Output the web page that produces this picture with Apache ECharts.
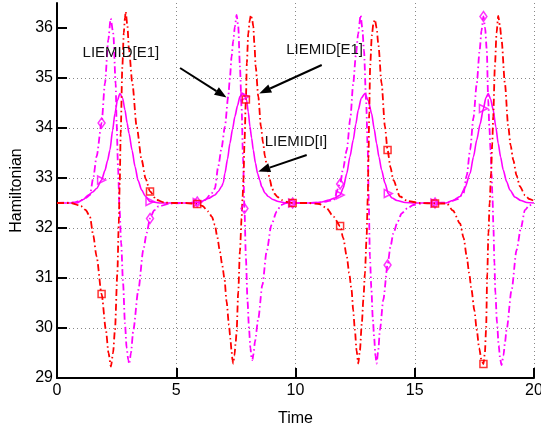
<!DOCTYPE html>
<html><head><meta charset="utf-8">
<script src="https://cdn.jsdelivr.net/npm/echarts@6/dist/echarts.min.js"></script>
<style>html,body{margin:0;padding:0;background:#fff}#c{width:541px;height:430px}</style>
</head><body><div id="c"></div>
<script>
const xTicks = [0, 5, 10, 15, 20];
const yTicks = [29, 30, 31, 32, 33, 34, 35, 36];

const redDashDot = [
[0.00,32.50],[0.60,32.50],[1.00,32.44],[1.20,32.36],[1.38,32.23],[1.52,31.85],[1.66,31.43],[1.87,30.68],[2.05,29.96],[2.16,29.50],[2.26,29.23],[2.35,29.50],[2.43,29.96],[2.53,31.09],[2.59,32.09],[2.63,32.90],[2.67,33.89],[2.74,35.23],[2.80,35.90],[2.85,36.20],[2.88,36.33],[2.95,36.05],[3.02,35.56],[3.16,34.89],[3.34,34.03],[3.55,33.36],[3.72,32.98],[3.90,32.73],[4.18,32.56],[4.50,32.51],[5.00,32.50],
[5.40,32.50],[5.88,32.48],[6.10,32.44],[6.34,32.33],[6.50,32.22],[6.62,32.06],[6.72,31.82],[6.83,31.53],[6.93,31.25],[7.02,30.99],[7.11,30.53],[7.21,30.06],[7.27,29.78],[7.32,29.53],[7.36,29.35],[7.39,29.29],[7.44,29.45],[7.49,29.70],[7.53,29.93],[7.60,30.73],[7.67,31.53],[7.74,32.19],[7.78,32.60],[7.82,33.00],[7.86,33.70],[7.92,34.57],[7.96,35.30],[8.02,35.89],[8.08,36.15],[8.13,36.26],[8.18,36.18],[8.23,36.03],[8.28,35.65],[8.33,35.23],[8.44,34.63],[8.55,34.03],[8.64,33.70],[8.72,33.43],[8.82,33.18],[8.93,32.96],[9.00,32.82],[9.11,32.69],[9.25,32.62],[9.42,32.56],[9.65,32.52],[9.88,32.50],
[10.50,32.50],[11.00,32.48],[11.30,32.40],[11.59,32.23],[11.87,32.04],[12.00,31.80],[12.15,31.43],[12.25,31.10],[12.35,30.76],[12.42,30.35],[12.49,29.96],[12.56,29.55],[12.63,29.29],[12.70,29.55],[12.78,30.09],[12.85,30.60],[12.91,31.09],[12.98,31.80],[13.03,32.60],[13.06,33.40],[13.09,34.30],[13.13,35.23],[13.20,35.85],[13.27,36.10],[13.33,36.17],[13.40,36.00],[13.47,35.69],[13.61,34.89],[13.75,34.03],[13.86,33.56],[13.98,33.22],[14.10,32.96],[14.38,32.63],[14.70,32.54],[15.20,32.50],[15.85,32.49],
[16.34,32.49],[16.60,32.35],[16.90,32.09],[17.05,31.80],[17.18,31.43],[17.28,31.10],[17.38,30.76],[17.50,30.35],[17.60,29.96],[17.70,29.60],[17.80,29.35],[17.88,29.28],[17.94,29.50],[17.99,29.96],[18.04,31.09],[18.09,31.90],[18.14,32.50],[18.20,33.10],[18.25,33.70],[18.29,34.23],[18.36,35.23],[18.43,35.90],[18.50,36.24],[18.57,36.05],[18.64,35.76],[18.78,34.89],[18.92,34.03],[19.02,33.65],[19.13,33.36],[19.27,33.05],[19.41,32.83],[19.62,32.66],[19.80,32.58],[20.00,32.54]
];

const magentaDashDot = [
[0.00,32.50],[0.70,32.51],[1.00,32.55],[1.20,32.60],[1.38,32.66],[1.52,33.00],[1.66,33.43],[1.87,34.10],[2.01,34.89],[2.15,35.76],[2.25,36.19],[2.36,35.89],[2.46,34.89],[2.50,34.09],[2.56,33.20],[2.62,32.40],[2.69,31.70],[2.77,30.90],[2.85,30.09],[2.92,29.60],[2.99,29.36],[3.03,29.28],[3.10,29.50],[3.20,29.96],[3.41,30.76],[3.62,31.56],[3.76,31.90],[3.90,32.19],[4.07,32.35],[4.25,32.43],[4.74,32.49],[5.20,32.50],
[5.60,32.50],[5.88,32.52],[6.20,32.56],[6.48,32.69],[6.62,32.79],[6.76,33.23],[6.90,33.60],[7.04,34.03],[7.18,34.63],[7.25,35.00],[7.32,35.43],[7.39,35.75],[7.46,36.03],[7.53,36.26],[7.60,36.03],[7.67,35.23],[7.74,34.40],[7.80,33.40],[7.86,32.39],[7.92,31.40],[7.99,30.53],[8.05,29.99],[8.11,29.60],[8.16,29.39],[8.19,29.36],[8.24,29.48],[8.30,29.73],[8.44,30.19],[8.61,30.86],[8.79,31.53],[8.99,32.06],[9.21,32.33],[9.40,32.46],[9.60,32.50],[9.88,32.50],
[10.50,32.50],[11.00,32.51],[11.30,32.53],[11.59,32.56],[11.87,32.88],[12.00,33.20],[12.15,33.56],[12.30,34.20],[12.42,34.89],[12.53,35.45],[12.63,35.89],[12.73,36.26],[12.80,36.00],[12.87,35.56],[12.96,34.56],[13.03,33.56],[13.07,32.56],[13.12,31.43],[13.18,30.80],[13.24,30.20],[13.30,29.80],[13.35,29.45],[13.40,29.29],[13.47,29.55],[13.54,29.96],[13.68,30.56],[13.86,31.26],[13.98,31.62],[14.10,31.89],[14.28,32.12],[14.45,32.29],[14.70,32.40],[14.94,32.46],[15.40,32.50],[15.85,32.50],
[16.40,32.51],[16.80,32.58],[17.04,32.69],[17.18,33.05],[17.32,33.56],[17.46,34.20],[17.60,34.89],[17.72,35.55],[17.80,35.95],[17.88,36.23],[17.95,36.00],[18.02,35.56],[18.08,34.56],[18.13,34.00],[18.18,33.56],[18.22,33.10],[18.26,32.60],[18.30,32.00],[18.34,31.30],[18.38,30.70],[18.45,30.10],[18.52,29.65],[18.58,29.38],[18.64,29.26],[18.72,29.45],[18.78,29.70],[18.85,29.96],[19.06,30.76],[19.27,31.56],[19.45,32.00],[19.62,32.36],[19.80,32.45],[20.00,32.50]
];

const magentaSolid = [
[0.00,32.50],[0.82,32.50],[1.10,32.57],[1.31,32.66],[1.50,32.72],[1.66,32.79],[1.87,32.96],[2.01,33.15],[2.12,33.35],[2.22,33.56],[2.33,33.95],[2.43,34.29],[2.53,34.55],[2.64,34.69],[2.75,34.60],[2.85,34.36],[2.94,34.10],[3.02,33.89],[3.15,33.55],[3.27,33.23],[3.40,32.95],[3.55,32.76],[3.70,32.64],[3.90,32.53],[4.30,32.50],
[5.60,32.50],[5.88,32.51],[6.00,32.52],[6.34,32.59],[6.62,32.66],[6.76,32.73],[6.90,32.83],[6.97,32.90],[7.04,33.09],[7.15,33.38],[7.25,33.69],[7.36,33.98],[7.46,34.23],[7.57,34.45],[7.67,34.63],[7.78,34.69],[7.88,34.63],[7.95,34.56],[8.02,34.32],[8.09,34.03],[8.16,33.80],[8.23,33.56],[8.32,33.30],[8.41,33.09],[8.50,32.96],[8.58,32.83],[8.72,32.70],[8.86,32.63],[9.05,32.57],[9.28,32.53],[9.60,32.50],[9.88,32.50],
[10.70,32.50],[11.10,32.52],[11.40,32.56],[11.65,32.60],[11.87,32.66],[12.00,32.80],[12.15,33.09],[12.28,33.42],[12.42,33.76],[12.53,34.08],[12.63,34.36],[12.76,34.60],[12.91,34.69],[13.05,34.55],[13.19,34.29],[13.30,33.98],[13.40,33.69],[13.50,33.42],[13.61,33.16],[13.75,32.90],[13.89,32.69],[14.05,32.60],[14.25,32.55],[14.60,32.51],[15.00,32.50],[15.85,32.50],
[16.30,32.50],[16.60,32.55],[16.90,32.63],[17.10,32.80],[17.32,33.09],[17.46,33.42],[17.60,33.76],[17.74,34.08],[17.88,34.39],[17.98,34.60],[18.08,34.69],[18.18,34.58],[18.29,34.36],[18.40,34.02],[18.50,33.69],[18.60,33.42],[18.71,33.16],[18.85,32.93],[18.99,32.76],[19.20,32.62],[19.45,32.55],[19.70,32.51],[20.00,32.50]
];

const redSquares = [[1.87,30.68],[3.90,32.73],[5.88,32.48],[7.92,34.57],[9.88,32.50],[11.87,32.04],[13.86,33.56],[15.85,32.49],[17.88,29.28]];
const magentaDiamonds = [[1.87,34.10],[3.90,32.19],[5.88,32.52],[7.86,32.39],[9.88,32.50],[11.87,32.88],[13.86,31.26],[15.85,32.50],[17.88,36.23]];
const magentaTriangles = [[1.87,32.96],[3.90,32.53],[5.88,32.51],[7.88,34.63],[9.88,32.50],[11.87,32.66],[13.89,32.69],[15.85,32.50],[17.88,34.39]];

const noteTexts = ['LIEMID[E1]', 'LIEMID[E1]', 'LIEMID[I]'];
const notePositions = [[2.68,35.50],[11.22,35.56],[10.02,33.73]];
const arrowStarts = [[5.16,35.20],[11.10,35.26],[10.47,33.46]];
const arrowEnds = [[7.11,34.61],[8.48,34.69],[8.44,33.13]];

const font = '"Liberation Sans", Arial, Helvetica, sans-serif';
const dashDot = [7, 3, 1.5, 3];
const RED = '#ff0000', MAG = '#ff00ff';

const chart = echarts.init(document.getElementById('c'), null, {renderer: 'canvas'});

function lineSeries(data, color, type, w) {
  return {type: 'line', data: data, showSymbol: false, symbol: 'none', smooth: 0.25, smoothMonotone: 'x',
    lineStyle: {color: color, width: w, type: type}, itemStyle: {color: color}, z: 3, silent: true};
}
function markerSeries(data, color, symbol, size, rotate) {
  return {type: 'scatter', data: data, symbol: symbol, symbolSize: size, symbolRotate: rotate || 0,
    itemStyle: {color: 'rgba(255,255,255,0)', borderColor: color, borderWidth: 1.5}, z: 4, silent: true};
}

chart.setOption({
  animation: false,
  textStyle: {fontFamily: font},
  grid: {left: 57, right: 7, top: 3, bottom: 52, containLabel: false, outerBoundsMode: 'none'},
  xAxis: {
    type: 'value', min: xTicks[0], max: xTicks[xTicks.length - 1], interval: 5,
    name: 'Time', nameLocation: 'middle', nameGap: 33,
    nameTextStyle: {color: '#000', fontSize: 16, fontFamily: font},
    axisLine: {lineStyle: {color: '#000', width: 2}},
    axisTick: {inside: true, length: 10, lineStyle: {color: '#000', width: 2}},
    axisLabel: {color: '#000', fontSize: 16, margin: 5, fontFamily: font, hideOverlap: false},
    splitLine: {show: true, showMinLine: false, lineStyle: {color: '#888', type: [1, 3], width: 1}}
  },
  yAxis: {
    type: 'value', min: yTicks[0], max: 36.5, interval: 1,
    name: 'Hamiltonian', nameLocation: 'middle', nameGap: 26,
    nameTextStyle: {color: '#000', fontSize: 16, fontFamily: font},
    axisLine: {lineStyle: {color: '#000', width: 2}},
    axisTick: {inside: true, length: 10, lineStyle: {color: '#000', width: 2}, customValues: yTicks},
    axisLabel: {color: '#000', fontSize: 16, margin: 4, fontFamily: font, customValues: yTicks},
    splitLine: {show: true, showMinLine: false, showMaxLine: false, lineStyle: {color: '#888', type: [1, 3], width: 1}}
  },
  series: [
    lineSeries(magentaSolid, MAG, 'solid', 1.6),
    lineSeries(magentaDashDot, MAG, dashDot, 1.8),
    lineSeries(redDashDot, RED, dashDot, 1.8),
    markerSeries(magentaTriangles, MAG, 'triangle', 8, -90),
    markerSeries(magentaDiamonds, MAG, 'diamond', [7, 10]),
    markerSeries(redSquares, RED, 'rect', 7)
  ]
});

const graphics = [];
noteTexts.forEach(function (t, i) {
  const p = chart.convertToPixel({gridIndex: 0}, notePositions[i]);
  graphics.push({type: 'text', x: p[0], y: p[1], z: 10,
    style: {text: t, fill: '#111', font: '15px ' + font, textAlign: 'center', textVerticalAlign: 'middle'}});
});
arrowStarts.forEach(function (s, i) {
  const a = chart.convertToPixel({gridIndex: 0}, s);
  const b = chart.convertToPixel({gridIndex: 0}, arrowEnds[i]);
  const dx = b[0] - a[0], dy = b[1] - a[1], L = Math.sqrt(dx * dx + dy * dy);
  const ux = dx / L, uy = dy / L, hl = 12, hw = 4.5;
  const bx = b[0] - ux * hl, by = b[1] - uy * hl;
  graphics.push({type: 'line', z: 10, shape: {x1: a[0], y1: a[1], x2: bx, y2: by}, style: {stroke: '#000', lineWidth: 2}});
  graphics.push({type: 'polygon', z: 10, shape: {points: [[b[0], b[1]], [bx - uy * hw, by + ux * hw], [bx + uy * hw, by - ux * hw]]}, style: {fill: '#000'}});
});
chart.setOption({graphic: graphics});
</script>
</body></html>
